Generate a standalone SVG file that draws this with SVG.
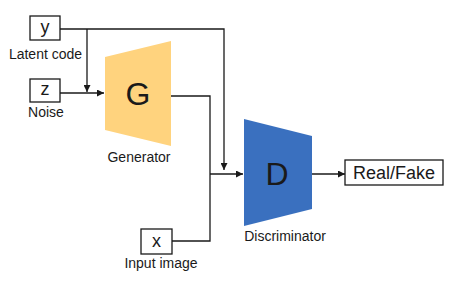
<svg xmlns="http://www.w3.org/2000/svg" width="455" height="288" viewBox="0 0 455 288">
<style>
.box{fill:#fff;stroke:#1a1a1a;stroke-width:1.3}
.ln{fill:none;stroke:#1a1a1a;stroke-width:1.3}
.lbl{font-family:"Liberation Sans",Arial,sans-serif;font-size:14px;fill:#1a1a1a;text-anchor:middle}
.var{font-family:"Liberation Sans",Arial,sans-serif;font-size:18px;fill:#1a1a1a;text-anchor:middle}
.big{font-family:"Liberation Sans",Arial,sans-serif;font-size:32px;fill:#1a1a1a;text-anchor:middle}
</style>
<defs>
<marker id="ah" viewBox="0 0 10 10" refX="10" refY="5" markerWidth="7" markerHeight="7" markerUnits="userSpaceOnUse" orient="auto">
<path d="M0,0 L10,5 L0,10 z" fill="#1a1a1a"/>
</marker>
</defs>
<g id="connectors">
<path class="ln" d="M60,29 H224 V170" marker-end="url(#ah)"/>
<path class="ln" d="M87,29 V92" marker-end="url(#ah)"/>
<path class="ln" d="M60,93 H104" marker-end="url(#ah)"/>
<path class="ln" d="M171,96 H210 V241 H172"/>
<path class="ln" d="M210,174 H243" marker-end="url(#ah)"/>
<path class="ln" d="M312,174 H345" marker-end="url(#ah)"/>
</g>
<g id="y">
<rect class="box" x="30" y="16" width="30" height="24"/>
<text class="var" x="45" y="33">y</text>
<text class="lbl" x="45.5" y="59">Latent code</text>
</g>
<g id="z">
<rect class="box" x="30" y="79" width="30" height="23"/>
<text class="var" x="45" y="95">z</text>
<text class="lbl" x="46" y="117">Noise</text>
</g>
<g id="G">
<polygon points="105,57 171,41 171,146 105,130" fill="#FFD37E"/>
<text class="big" x="138" y="105">G</text>
<text class="lbl" x="139" y="162">Generator</text>
</g>
<g id="x">
<rect class="box" x="141" y="229" width="31" height="25"/>
<text class="var" x="156.5" y="247">x</text>
<text class="lbl" x="161" y="268">Input image</text>
</g>
<g id="D">
<polygon points="244,119 312,136 312,209 244,226" fill="#3A70BF"/>
<text class="big" x="277" y="185">D</text>
<text class="lbl" x="285" y="241">Discriminator</text>
</g>
<g id="out">
<rect class="box" x="345" y="160" width="98" height="25"/>
<text class="var" x="394" y="179">Real/Fake</text>
</g>
</svg>
